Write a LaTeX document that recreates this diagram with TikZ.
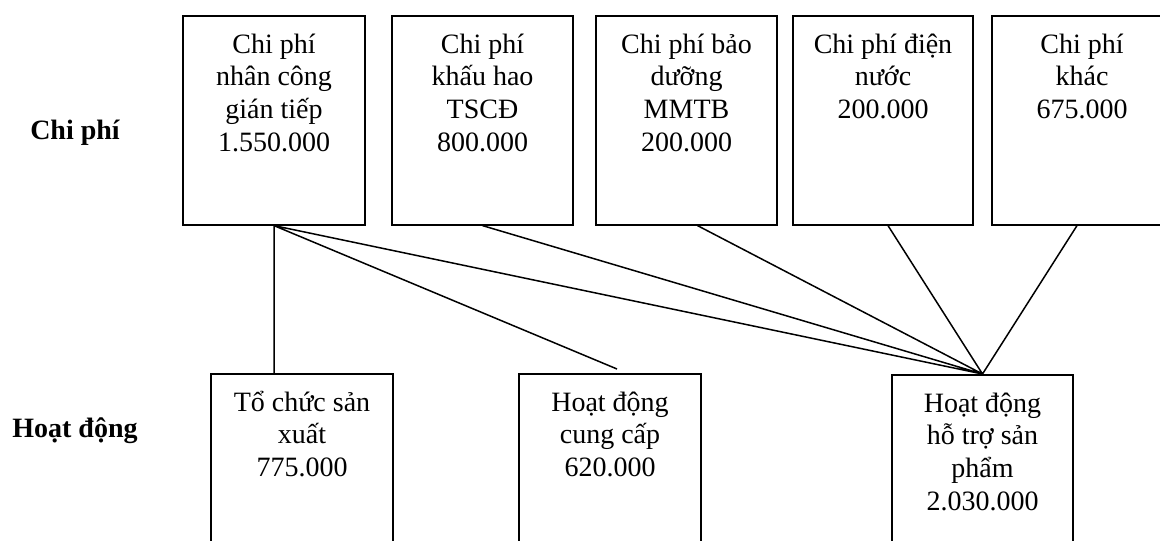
\documentclass[tikz,border=0pt]{standalone}
\usepackage{fontspec}
\setmainfont{Liberation Serif}
\usetikzlibrary{positioning}
\newcommand{\firstrule}{\rule{0pt}{27pt}}
\tikzset{%
    costbox/.style={%
        draw, line width=1.6pt, anchor=north, inner sep=0pt,
        minimum width=181pt, minimum height=209pt
    },
    actbox/.style={%
        costbox, minimum height=260pt
    },
    boxtext/.style={%
        align=center, inner sep=0pt,
        font=\fontsize{28}{32.6}\selectfont
    },
    rowlabel/.style={%
        anchor=base, font=\fontsize{28}{33}\selectfont\bfseries
    },
    link/.style={%
        line width=1.5pt
    }
}

\begin{document}
\begin{tikzpicture}[x=1pt, y=-1pt]
    \useasboundingbox (0,0) rectangle (1160,541);
    \clip (0,0) rectangle (1160,541);

    \node[rowlabel] (l-chiphi) at (75,139) {Chi phí};
    \node[rowlabel] (l-hoatdong) at (75,437) {Hoạt động};

    \node[costbox, minimum width=182pt] (nhancong) at (274,15) {};
    \node[costbox] (khauhao) at (482.5,15) {};
    \node[costbox] (baoduong) at (686.5,15) {};
    \node[costbox, minimum width=180pt] (diennuoc) at (883,15) {};
    \node[costbox, minimum width=180pt] (khac) at (1082,15) {};

    \node[actbox, minimum width=182pt] (sanxuat) at (302,373) {};
    \node[actbox, minimum width=182pt] (cungcap) at (610,373) {};
    \node[actbox] (hotro) at (982.5,374) {};

    \node[boxtext, below=11pt of nhancong.north] (t-nhancong)
        {\firstrule Chi phí\\nhân công\\gián tiếp\\1.550.000};
    \node[boxtext, below=11pt of khauhao.north] (t-khauhao)
        {\firstrule Chi phí\\khấu hao\\TSCĐ\\800.000};
    \node[boxtext, below=11pt of baoduong.north] (t-baoduong)
        {\firstrule Chi phí bảo\\dưỡng\\MMTB\\200.000};
    \node[boxtext, below=11pt of diennuoc.north] (t-diennuoc)
        {\firstrule Chi phí điện\\nước\\200.000};
    \node[boxtext, below=11pt of khac.north] (t-khac)
        {\firstrule Chi phí\\khác\\675.000};

    \node[boxtext, below=11pt of sanxuat.north] (t-sanxuat)
        {\firstrule Tổ chức sản\\xuất\\775.000};
    \node[boxtext, below=11pt of cungcap.north] (t-cungcap)
        {\firstrule Hoạt động\\cung cấp\\620.000};
    \node[boxtext, below=11pt of hotro.north] (t-hotro)
        {\firstrule Hoạt động\\hỗ trợ sản\\phẩm\\2.030.000};

    \coordinate (cungcap-end) at ([xshift=7pt,yshift=4pt]cungcap.north);

    \draw[link]
        (nhancong.south) -- (nhancong.south |- sanxuat.north)
        (nhancong.south) -- (cungcap-end)
        (nhancong.south) -- (hotro.north)
        (khauhao.south) -- (hotro.north)
        ([xshift=11pt]baoduong.south) -- (hotro.north)
        ([xshift=5pt]diennuoc.south) -- (hotro.north)
        ([xshift=-5pt]khac.south) -- (hotro.north);
\end{tikzpicture}
\end{document}
